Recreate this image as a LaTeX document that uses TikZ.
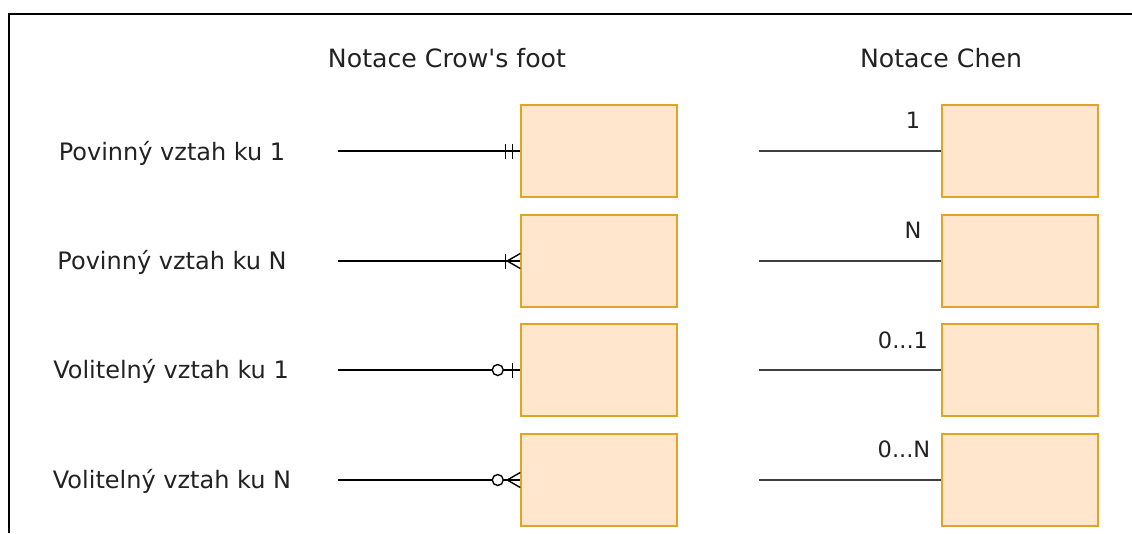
\documentclass[tikz,border=0pt]{standalone}
\usepackage{fontspec}
\newfontfamily\dvsans{DejaVu Sans}
\definecolor{boxfill}{HTML}{FFE6CC}
\definecolor{boxline}{HTML}{E0A526}
\definecolor{txt}{HTML}{222222}
\begin{document}
\begin{tikzpicture}[x=1pt,y=-1pt,
  entity/.style={draw=boxline,fill=boxfill,line width=1.5pt,minimum width=156pt,minimum height=92pt,inner sep=0pt},
  lbl/.style={text=txt,font=\dvsans\fontsize{24}{28}\selectfont,inner sep=0pt,anchor=center},
  ttl/.style={text=txt,font=\dvsans\fontsize{25.2}{29}\selectfont,inner sep=0pt,anchor=center},
  card/.style={text=txt,font=\dvsans\fontsize{22.5}{26}\selectfont,inner sep=0pt,anchor=center},
  conn/.style={draw=black,line width=1.4pt},
  chen/.style={draw=black!75,line width=1.5pt},
  cfmark/.style={draw=black,line width=1.4pt}
]
\useasboundingbox (0,0) rectangle (1132,533);
% frame
\draw[line width=1.6pt] (9,533) -- (9,14) -- (1132,14);
% titles
\node[ttl] (t1) at (447,58) {Notace Crow's foot};
\node[ttl] (t2) at (941,58) {Notace Chen};
% row labels
\node[lbl] (l1) at (172,153) {Povinný vztah ku 1};
\node[lbl] (l2) at (172,262) {Povinný vztah ku N};
\node[lbl] (l3) at (171,371) {Volitelný vztah ku 1};
\node[lbl] (l4) at (172,481) {Volitelný vztah ku N};
% crow's foot entities
\node[entity] (c1) at (599,151) {};
\node[entity] (c2) at (599,261) {};
\node[entity] (c3) at (599,370) {};
\node[entity] (c4) at (599,480) {};
% chen entities
\node[entity] (h1) at (1020,151) {};
\node[entity] (h2) at (1020,261) {};
\node[entity] (h3) at (1020,370) {};
\node[entity] (h4) at (1020,480) {};
% free ends
\coordinate (s1) at (338,151);
\coordinate (s2) at (338,261);
\coordinate (s3) at (338,370);
\coordinate (s4) at (338,480);
\coordinate (e1) at (759,151);
\coordinate (e2) at (759,261);
\coordinate (e3) at (759,370);
\coordinate (e4) at (759,480);
% crow's foot connectors
\draw[conn] (s1) -- (c1.west);
\draw[conn] (s2) -- (c2.west);
\draw[conn] (s3) -- ([xshift=-28pt]c3.west);
\draw[conn] ([xshift=-17pt]c3.west) -- (c3.west);
\draw[conn] (s4) -- ([xshift=-28pt]c4.west);
\draw[conn] ([xshift=-17pt]c4.west) -- (c4.west);
% mandatory one
\draw[cfmark] ([xshift=-15pt,yshift=7.5pt]c1.west) -- ++(0,15);
\draw[cfmark] ([xshift=-8pt,yshift=7.5pt]c1.west) -- ++(0,15);
% mandatory many
\draw[cfmark] ([xshift=-15pt,yshift=7.5pt]c2.west) -- ++(0,15);
\draw[cfmark] ([yshift=-7.5pt]c2.west) -- ([xshift=-13pt]c2.west) -- ([yshift=7.5pt]c2.west);
% optional one
\draw[cfmark,fill=white] ([xshift=-22.5pt]c3.west) circle (5.5pt);
\draw[cfmark] ([xshift=-7.5pt,yshift=7.5pt]c3.west) -- ++(0,15);
% optional many
\draw[cfmark,fill=white] ([xshift=-22.5pt]c4.west) circle (5.5pt);
\draw[cfmark] ([yshift=-7.5pt]c4.west) -- ([xshift=-13pt]c4.west) -- ([yshift=7.5pt]c4.west);
% chen connectors
\draw[chen] (e1) -- (h1.west);
\draw[chen] (e2) -- (h2.west);
\draw[chen] (e3) -- (h3.west);
\draw[chen] (e4) -- (h4.west);
% cardinalities
\node[card] (k1) at (913,120) {1};
\node[card] (k2) at (913,230) {N};
\node[card] (k3) at (903,340) {0...1};
\node[card] (k4) at (904,449) {0...N};
\end{tikzpicture}
\end{document}
